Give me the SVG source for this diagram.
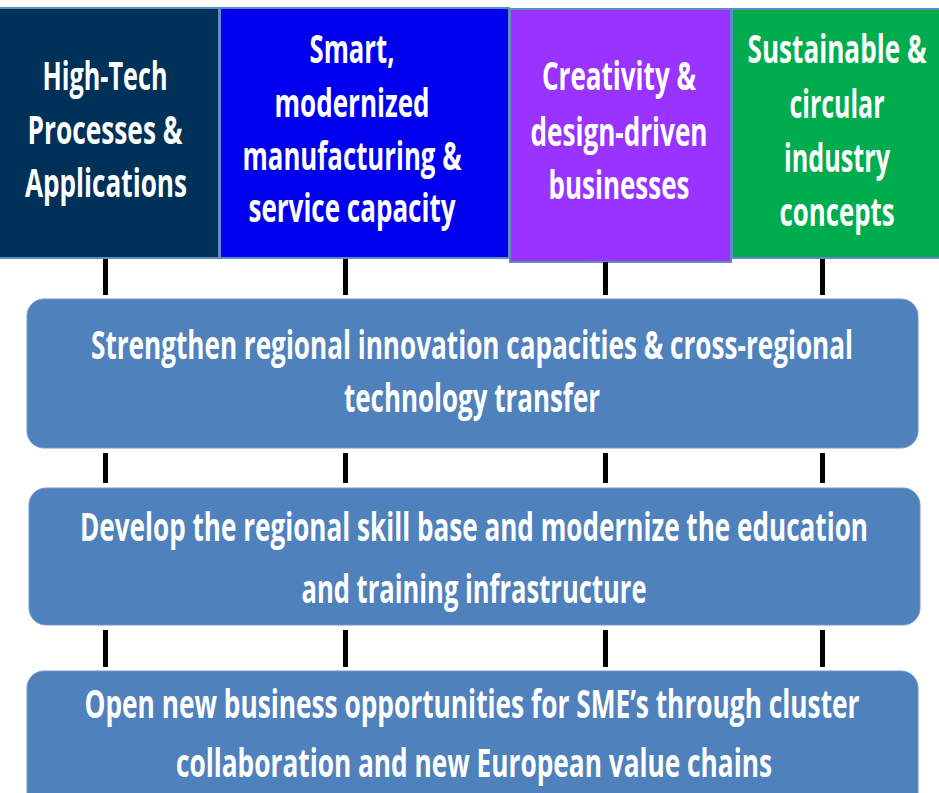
<svg xmlns="http://www.w3.org/2000/svg" width="939" height="793" viewBox="0 0 939 793">
  <style>
    .cat { stroke: #5f8cc4; stroke-width: 2; }
    .goal { fill: #4f81bd; stroke: #6f98cc; stroke-width: 1; }
    .t { font-family: "Open Sans", "Liberation Sans", sans-serif; font-weight: 700; fill: #ffffff; text-anchor: middle; }
    .th { font-size: 39px; }
    .tg { font-size: 40px; }
    .tick { stroke: #000000; stroke-width: 5; }
  </style>
  <rect x="0" y="0" width="939" height="793" fill="#ffffff"/>

  <!-- Category columns -->
  <g id="hightech">
    <rect class="cat" x="-2" y="8" width="221" height="250" fill="#003158"/>
    <text class="t th" x="105" y="90" textLength="125" lengthAdjust="spacingAndGlyphs">High-Tech</text>
    <text class="t th" x="105" y="144" textLength="155" lengthAdjust="spacingAndGlyphs">Processes &amp;</text>
    <text class="t th" x="106" y="197" textLength="162" lengthAdjust="spacingAndGlyphs">Applications</text>
  </g>
  <g id="smart">
    <rect class="cat" x="220" y="8" width="289" height="250" fill="#0000ee"/>
    <text class="t th" x="352" y="63" textLength="85" lengthAdjust="spacingAndGlyphs">Smart,</text>
    <text class="t th" x="352" y="117" textLength="155" lengthAdjust="spacingAndGlyphs">modernized</text>
    <text class="t th" x="352" y="170" textLength="219" lengthAdjust="spacingAndGlyphs">manufacturing &amp;</text>
    <text class="t th" x="352" y="222" textLength="207" lengthAdjust="spacingAndGlyphs">service capacity</text>
  </g>
  <g id="creativity">
    <rect class="cat" x="510" y="9" width="221" height="253" fill="#9933ff"/>
    <text class="t th" x="619" y="90" textLength="154" lengthAdjust="spacingAndGlyphs">Creativity &amp;</text>
    <text class="t th" x="619" y="146" textLength="177" lengthAdjust="spacingAndGlyphs">design-driven</text>
    <text class="t th" x="619" y="199" textLength="141" lengthAdjust="spacingAndGlyphs">businesses</text>
  </g>
  <g id="sustainable">
    <rect class="cat" x="732" y="9" width="210" height="249" fill="#00ac4e"/>
    <text class="t th" x="837" y="63" textLength="179" lengthAdjust="spacingAndGlyphs">Sustainable &amp;</text>
    <text class="t th" x="837" y="118" textLength="95" lengthAdjust="spacingAndGlyphs">circular</text>
    <text class="t th" x="837" y="172" textLength="106" lengthAdjust="spacingAndGlyphs">industry</text>
    <text class="t th" x="837" y="226" textLength="115" lengthAdjust="spacingAndGlyphs">concepts</text>
  </g>

  <!-- Connecting ticks -->
  <g id="connectors">
    <line class="tick" x1="105.5" y1="259" x2="105.5" y2="295"/>
    <line class="tick" x1="345.5" y1="259" x2="345.5" y2="295"/>
    <line class="tick" x1="605.5" y1="262" x2="605.5" y2="295"/>
    <line class="tick" x1="822.5" y1="259" x2="822.5" y2="295"/>

    <line class="tick" x1="105.5" y1="453" x2="105.5" y2="483"/>
    <line class="tick" x1="345.5" y1="453" x2="345.5" y2="483"/>
    <line class="tick" x1="605.5" y1="453" x2="605.5" y2="483"/>
    <line class="tick" x1="822.5" y1="453" x2="822.5" y2="483"/>

    <line class="tick" x1="105.5" y1="630" x2="105.5" y2="667"/>
    <line class="tick" x1="345.5" y1="630" x2="345.5" y2="667"/>
    <line class="tick" x1="605.5" y1="630" x2="605.5" y2="667"/>
    <line class="tick" x1="822.5" y1="630" x2="822.5" y2="667"/>
  </g>

  <!-- Goal bars -->
  <g id="goal-innovation">
    <rect class="goal" x="27" y="299" width="891" height="149" rx="17"/>
    <text class="t tg" x="472" y="359" textLength="762" lengthAdjust="spacingAndGlyphs">Strengthen regional innovation capacities &amp; cross-regional</text>
    <text class="t tg" x="472" y="412" textLength="256" lengthAdjust="spacingAndGlyphs">technology transfer</text>
  </g>
  <g id="goal-skills">
    <rect class="goal" x="29" y="488" width="891" height="137" rx="17"/>
    <text class="t tg" x="474" y="541" textLength="788" lengthAdjust="spacingAndGlyphs">Develop the regional skill base and modernize the education</text>
    <text class="t tg" x="474" y="603" textLength="345" lengthAdjust="spacingAndGlyphs">and training infrastructure</text>
  </g>
  <g id="goal-business">
    <rect class="goal" x="27" y="671" width="891" height="150" rx="17"/>
    <text class="t tg" x="472" y="718" textLength="775" lengthAdjust="spacingAndGlyphs">Open new business opportunities for SME’s through cluster</text>
    <text class="t tg" x="474" y="777" textLength="596" lengthAdjust="spacingAndGlyphs">collaboration and new European value chains</text>
  </g>
</svg>
